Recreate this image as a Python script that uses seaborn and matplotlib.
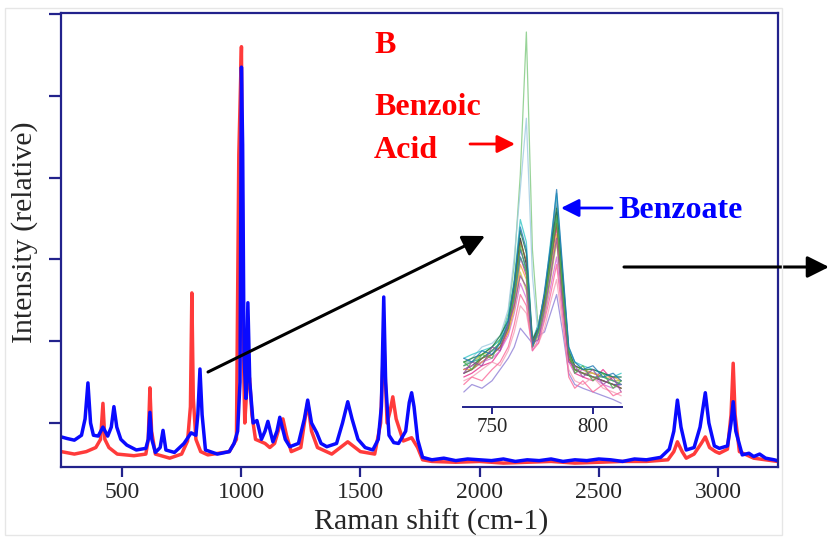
import numpy as np
import pandas as pd
import seaborn as sns
import matplotlib
matplotlib.use("Agg")
import matplotlib.pyplot as plt
from matplotlib.patches import FancyArrowPatch, Rectangle

# Raman spectra (x in cm-1, relative intensity)
benzoate_shift = [245, 270, 300, 330, 345, 357, 368, 380, 400, 420, 440, 455, 466, 478, 495, 520,
                  560, 600, 610, 617, 625, 640, 660, 672, 684, 720, 760, 790, 810, 818, 827, 836,
                  850, 900, 950, 970, 985, 995, 1001, 1006, 1012, 1020, 1028, 1036, 1050, 1066,
                  1085, 1100, 1112, 1122, 1133, 1150, 1162, 1172, 1185, 1204, 1240, 1265, 1279,
                  1295, 1317, 1335, 1359, 1400, 1425, 1447, 1465, 1490, 1520, 1552, 1575, 1588,
                  1598, 1606, 1620, 1640, 1660, 1690, 1705, 1715, 1725, 1740, 1761,
                  1800, 1850, 1900, 1950, 2000, 2050, 2100, 2150, 2200, 2250,
                  2300, 2350, 2400, 2450, 2500, 2550, 2600, 2650, 2700,
                  2760, 2796, 2815, 2830, 2845, 2867, 2900, 2925, 2947,
                  2962, 2985, 3006, 3040, 3055, 3064, 3075, 3102, 3130, 3150, 3175, 3200, 3236, 3250]
benzoate_int = [-0.17, -0.19, -0.21, -0.15, 0.05, 0.49, 0.0, -0.15, -0.16, -0.05, -0.16, -0.05, 0.20,
                -0.05, -0.20, -0.27, -0.33, -0.31, -0.20, 0.13, -0.20, -0.36, -0.30, -0.09, -0.33,
                -0.36, -0.25, -0.12, -0.15, 0.10, 0.66, 0.10, -0.33, -0.38, -0.35, -0.25, -0.10,
                0.50, 4.35, 3.40, 0.80, 0.30, 1.47, 0.50, 0.0, 0.03, -0.20, -0.10, 0.02, -0.10,
                -0.23, -0.10, 0.07, -0.05, -0.20, -0.29, -0.25, 0.05, 0.28, 0.0, -0.12, -0.25,
                -0.29, -0.25, 0.0, 0.26, 0.05, -0.20, -0.30, -0.33, -0.20, 0.20, 1.54, 0.50,
                -0.15, -0.24, -0.25, -0.10, 0.25, 0.37, 0.20, -0.20, -0.42,
                -0.45, -0.43, -0.46, -0.44, -0.45, -0.46, -0.44, -0.47, -0.45, -0.46,
                -0.44, -0.47, -0.45, -0.46, -0.44, -0.45, -0.47, -0.44, -0.45,
                -0.42, -0.32, -0.10, 0.28, -0.05, -0.33, -0.30, -0.05, 0.37,
                0.0, -0.28, -0.31, -0.28, 0.0, 0.26, -0.10, -0.39, -0.37, -0.41, -0.38, -0.43, -0.45, -0.46]

acid_shift = [245, 300, 350, 390, 410, 420, 428, 445, 480, 550, 600, 610, 617, 624, 640, 700, 750,
              775, 787, 793, 799, 810, 830, 860, 950, 980, 990, 1001, 1008, 1015, 1025, 1035, 1045,
              1060, 1100, 1120, 1140, 1160, 1175, 1190, 1210, 1250, 1265, 1279, 1295, 1320, 1380,
              1447, 1500, 1560, 1585, 1598, 1612, 1625, 1636, 1650, 1680, 1715, 1740, 1761, 1800,
              1900, 2000, 2100, 2200, 2300, 2400, 2500, 2600, 2700, 2790, 2815, 2830, 2850, 2867,
              2900, 2930, 2947, 2965, 2990, 3006, 3040, 3055, 3064, 3072, 3090, 3150, 3250]
acid_int = [-0.35, -0.38, -0.35, -0.30, -0.20, 0.24, -0.20, -0.30, -0.38, -0.40, -0.38, -0.20, 0.43,
            -0.10, -0.38, -0.43, -0.38, -0.22, 0.20, 1.59, 0.30, -0.20, -0.35, -0.39, -0.35, -0.20,
            3.28, 4.60, 1.00, 0.0, 0.50, 0.55, 0.10, -0.20, -0.25, -0.30, -0.25, -0.05, 0.05, -0.15,
            -0.35, -0.30, 0.0, 0.25, -0.10, -0.30, -0.38, -0.23, -0.35, -0.38, 0.0, 1.04, 0.0, 0.15,
            0.32, 0.05, -0.22, -0.18, -0.30, -0.45, -0.47, -0.48, -0.47, -0.49, -0.48, -0.47, -0.49,
            -0.48, -0.47, -0.47, -0.45, -0.35, -0.23, -0.35, -0.43, -0.38, -0.25, -0.17, -0.30,
            -0.35, -0.37, -0.32, 0.10, 0.73, 0.10, -0.35, -0.43, -0.47]

# Zoomed inset: spectra around 735-815 cm-1
inset_shift = [736, 740, 745, 750, 754, 758, 761, 764, 767, 770, 773, 776, 779, 782, 785, 788, 791,
               795, 800, 805, 810, 814]
inset_curves = {
    "c01": [0.10, 0.11, 0.13, 0.15, 0.17, 0.22, 0.32, 0.45, 0.38, 0.17, 0.22, 0.30, 0.42, 0.55, 0.35, 0.15, 0.10, 0.09, 0.08, 0.07, 0.06, 0.05],
    "c02": [0.12, 0.12, 0.14, 0.16, 0.18, 0.25, 0.38, 0.62, 1.00, 0.42, 0.20, 0.25, 0.35, 0.50, 0.32, 0.14, 0.11, 0.10, 0.09, 0.08, 0.07, 0.07],
    "c03": [0.11, 0.13, 0.16, 0.17, 0.19, 0.26, 0.40, 0.58, 0.77, 0.35, 0.18, 0.24, 0.36, 0.56, 0.33, 0.15, 0.12, 0.10, 0.09, 0.09, 0.08, 0.08],
    "c04": [0.08, 0.09, 0.11, 0.12, 0.15, 0.20, 0.28, 0.40, 0.35, 0.16, 0.20, 0.28, 0.38, 0.48, 0.30, 0.13, 0.09, 0.08, 0.07, 0.10, 0.07, 0.06],
    "c05": [0.09, 0.10, 0.12, 0.14, 0.16, 0.21, 0.30, 0.42, 0.37, 0.17, 0.21, 0.29, 0.40, 0.52, 0.32, 0.14, 0.10, 0.09, 0.08, 0.07, 0.06, 0.06],
    "c06": [0.10, 0.11, 0.12, 0.13, 0.15, 0.19, 0.25, 0.33, 0.29, 0.15, 0.18, 0.24, 0.32, 0.40, 0.26, 0.12, 0.09, 0.10, 0.08, 0.06, 0.05, 0.06],
    "c07": [0.13, 0.14, 0.15, 0.16, 0.18, 0.24, 0.34, 0.50, 0.44, 0.18, 0.22, 0.30, 0.44, 0.57, 0.36, 0.16, 0.12, 0.11, 0.10, 0.09, 0.08, 0.09],
    "c08": [0.11, 0.12, 0.14, 0.15, 0.17, 0.20, 0.26, 0.36, 0.31, 0.16, 0.19, 0.25, 0.34, 0.44, 0.28, 0.13, 0.10, 0.09, 0.09, 0.08, 0.07, 0.07],
    "c09": [0.04, 0.06, 0.05, 0.07, 0.10, 0.13, 0.16, 0.21, 0.19, 0.17, 0.19, 0.20, 0.25, 0.30, 0.20, 0.09, 0.06, 0.05, 0.04, 0.03, 0.02, 0.01],
    "c10": [0.10, 0.10, 0.12, 0.14, 0.16, 0.20, 0.27, 0.38, 0.34, 0.16, 0.20, 0.27, 0.37, 0.46, 0.29, 0.14, 0.11, 0.10, 0.09, 0.08, 0.08, 0.07],
    "c11": [0.07, 0.08, 0.10, 0.12, 0.11, 0.15, 0.20, 0.27, 0.25, 0.16, 0.17, 0.21, 0.28, 0.34, 0.22, 0.10, 0.07, 0.06, 0.08, 0.05, 0.04, 0.03],
    "c12": [0.12, 0.13, 0.14, 0.16, 0.19, 0.23, 0.33, 0.47, 0.41, 0.18, 0.21, 0.29, 0.41, 0.53, 0.34, 0.15, 0.11, 0.10, 0.10, 0.09, 0.08, 0.08],
    "c13": [0.11, 0.12, 0.13, 0.15, 0.17, 0.22, 0.29, 0.40, 0.36, 0.17, 0.20, 0.27, 0.38, 0.50, 0.31, 0.14, 0.10, 0.09, 0.08, 0.08, 0.07, 0.06],
    "c14": [0.09, 0.10, 0.13, 0.14, 0.16, 0.21, 0.31, 0.44, 0.39, 0.17, 0.21, 0.28, 0.39, 0.49, 0.30, 0.13, 0.10, 0.09, 0.08, 0.07, 0.06, 0.05],
    "c15": [0.12, 0.10, 0.14, 0.13, 0.18, 0.21, 0.30, 0.43, 0.36, 0.16, 0.20, 0.27, 0.40, 0.51, 0.31, 0.15, 0.09, 0.11, 0.07, 0.09, 0.05, 0.07],
    "c16": [0.09, 0.12, 0.11, 0.16, 0.15, 0.22, 0.27, 0.35, 0.32, 0.17, 0.18, 0.26, 0.35, 0.45, 0.27, 0.12, 0.11, 0.08, 0.10, 0.06, 0.08, 0.04],
    "c17": [0.13, 0.12, 0.15, 0.14, 0.17, 0.23, 0.33, 0.48, 0.42, 0.16, 0.21, 0.31, 0.43, 0.58, 0.37, 0.16, 0.12, 0.10, 0.11, 0.08, 0.09, 0.07],
    "c18": [0.06, 0.08, 0.07, 0.10, 0.12, 0.16, 0.22, 0.30, 0.27, 0.15, 0.17, 0.23, 0.30, 0.38, 0.24, 0.08, 0.05, 0.07, 0.04, 0.06, 0.03, 0.04],
}
inset_colors = ["#222222", "#7fc97f", "#9ecae1", "#e7298a", "#3b3bd6", "#d66bd6", "#33c6c6",
                "#c8c84a", "#8f7fd6", "#f0a040", "#f4a0b8", "#1b7a3a", "#2aa198", "#8c6d31",
                "#4daf4a", "#984ea3", "#1f78b4", "#fb6a9a"]

xticks_main = [500, 1000, 1500, 2000, 2500, 3000]
xticks_inset = [750, 800]

W, H = 829, 537
NAVY = "#22228c"


def fx(px):
    return px / W


def fy(py):
    return 1 - py / H


sns.set_theme(style="white")
plt.rcParams["font.family"] = ["Liberation Serif", "DejaVu Serif"]

fig = plt.figure(figsize=(W / 100, H / 100), dpi=100)

# main axes
ax = fig.add_axes([fx(61), fy(467), fx(778) - fx(61), fy(13) - fy(467)])
spec = pd.DataFrame({"shift": acid_shift, "intensity": acid_int})
sns.lineplot(data=spec, x="shift", y="intensity", ax=ax, color="#ff3b3b", lw=2.5, estimator=None)
spec = pd.DataFrame({"shift": benzoate_shift, "intensity": benzoate_int})
sns.lineplot(data=spec, x="shift", y="intensity", ax=ax, color="#0a0aff", lw=2.5, estimator=None)

ax.set_xlim(244, 3252)
ax.set_ylim(-0.538, 5.012)
ax.set_xticks(xticks_main)
ax.set_xticklabels([str(t) for t in xticks_main], fontsize=17)
ax.set_yticks(range(6))
ax.set_yticklabels([])
ax.tick_params(axis="x", direction="out", length=7, width=1.6, color=NAVY, pad=4, bottom=True)
ax.tick_params(axis="y", direction="out", length=9, width=1.6, color=NAVY, left=True)
for s in ax.spines.values():
    s.set_color(NAVY)
    s.set_linewidth(1.6)
ax.set_xlabel("Raman shift (cm-1)", fontsize=21.5, va="bottom")
ax.set_ylabel("Intensity (relative)", fontsize=21.5)
ax.xaxis.set_label_coords((431 - 61) / 717, -(536 - 467) / 454)
ax.yaxis.set_label_coords(-(61 - 38) / 717, (467 - 232) / 454)

# inset axes
axi = fig.add_axes([fx(463), fy(407), fx(622) - fx(463), fy(25) - fy(407)])
axi.set_facecolor("none")
long = pd.DataFrame([
    {"shift": x, "intensity": v, "curve": name}
    for name, vals in inset_curves.items() for x, v in zip(inset_shift, vals)
])
sns.lineplot(data=long, x="shift", y="intensity", hue="curve", palette=inset_colors,
             ax=axi, lw=0.9, alpha=0.8, legend=False, estimator=None)
axi.set_xlim(735.6, 814.4)
axi.set_ylim(0, 382 / 375)
axi.set_xticks(xticks_inset)
axi.set_xticklabels([str(t) for t in xticks_inset], fontsize=15)
axi.set_yticks([])
axi.set_xlabel("")
axi.set_ylabel("")
axi.tick_params(axis="x", direction="out", length=5, width=1.4, color=NAVY, pad=3, bottom=True)
for side in ["left", "right", "top"]:
    axi.spines[side].set_visible(False)
axi.spines["bottom"].set_color(NAVY)
axi.spines["bottom"].set_linewidth(1.4)

# labels
bold = dict(fontsize=23, fontweight="bold", va="baseline", ha="left")
fig.text(fx(374), fy(53), "B", color="#ff0000", **bold)
fig.text(fx(374), fy(115), "Benzoic", color="#ff0000", **bold)
fig.text(fx(374), fy(158), "Acid", color="#ff0000", **bold)
fig.text(fx(618), fy(218), "Benzoate", color="#0000ff", **bold)

# arrows
arrows = [
    ((470, 144), (515, 144), "#ff0000", 2.0, 18),
    ((612, 208), (561, 208), "#0000ff", 2.0, 18),
    ((208, 372), (485, 236), "black", 2.2, 22),
    ((624, 267), (829, 267), "black", 2.2, 22),
]
for (x0, y0), (x1, y1), c, lw, ms in arrows:
    fig.add_artist(FancyArrowPatch((fx(x0), fy(y0)), (fx(x1), fy(y1)), transform=fig.transFigure,
                                   arrowstyle="-|>,head_length=0.6,head_width=0.3", color=c, lw=lw,
                                   mutation_scale=ms, shrinkA=0, shrinkB=0))

# faint screenshot frame
fig.add_artist(Rectangle((fx(5), fy(535)), fx(782) - fx(5), fy(8) - fy(535), transform=fig.transFigure,
                         fill=False, edgecolor="#e6e6e6", lw=1))

fig.savefig("out.png", dpi=100)
